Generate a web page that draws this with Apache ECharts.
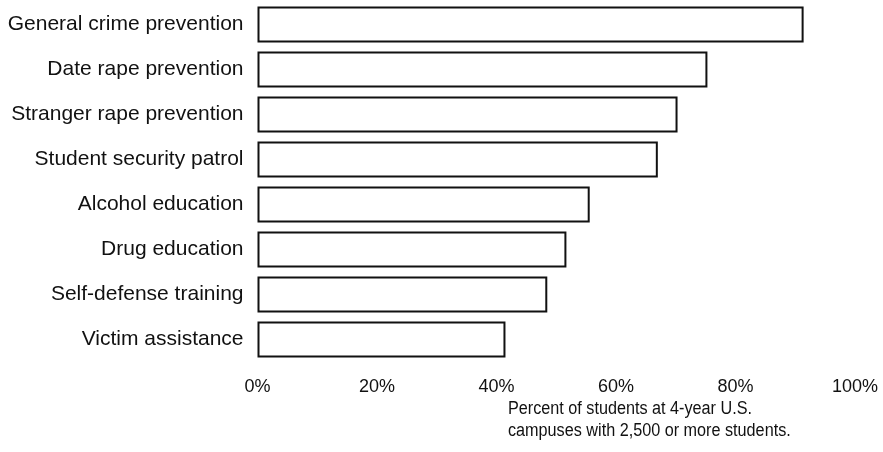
<!DOCTYPE html>
<html>
<head>
<meta charset="utf-8">
<script src="https://cdn.jsdelivr.net/npm/echarts@6/dist/echarts.min.js"></script>
<style>
  html, body { margin: 0; padding: 0; background: #fff; }
  #chart { width: 883px; height: 452px; }
</style>
</head>
<body>
<div id="chart"></div>
<script>
// Campus safety programs, share of students covered
const categories = [
  'General crime prevention',
  'Date rape prevention',
  'Stranger rape prevention',
  'Student security patrol',
  'Alcohol education',
  'Drug education',
  'Self-defense training',
  'Victim assistance'
];
const percentValues = [91.4, 75.3, 70.3, 67, 55.6, 51.7, 48.5, 41.5];
const axisTicks = [0, 20, 40, 60, 80, 100];
const axisTitleLines = [
  'Percent of students at 4-year U.S.',
  'campuses with 2,500 or more students.'
];

const FONT = '"Liberation Sans", Arial, sans-serif';

const chart = echarts.init(document.getElementById('chart'), null, { renderer: 'canvas' });

chart.setOption({
  animation: false,
  backgroundColor: '#ffffff',
  grid: { left: 257.5, right: 28, top: 2, bottom: 90, containLabel: false },
  xAxis: {
    type: 'value',
    min: axisTicks[0],
    max: axisTicks[axisTicks.length - 1],
    interval: axisTicks[1] - axisTicks[0],
    axisLine: { show: false },
    axisTick: { show: false },
    splitLine: { show: false },
    axisLabel: {
      formatter: '{value}%',
      color: '#111',
      fontFamily: FONT,
      fontSize: 18,
      margin: 16
    }
  },
  yAxis: {
    type: 'category',
    data: categories,
    inverse: true,
    axisLine: { show: false },
    axisTick: { show: false },
    splitLine: { show: false },
    axisLabel: {
      color: '#111',
      fontFamily: FONT,
      fontSize: 21,
      margin: 14
    }
  },
  series: [{
    type: 'bar',
    data: percentValues,
    barWidth: 36,
    itemStyle: {
      color: '#ffffff',
      borderColor: '#111111',
      borderWidth: 2
    }
  }],
  graphic: [{
    type: 'text',
    x: 508,
    y: 398,
    scaleX: 0.9,
    style: {
      text: axisTitleLines.join('\n'),
      fill: '#111',
      font: '18px ' + FONT,
      lineHeight: 22,
      textAlign: 'left',
      textVerticalAlign: 'top'
    }
  }]
});
</script>
</body>
</html>
